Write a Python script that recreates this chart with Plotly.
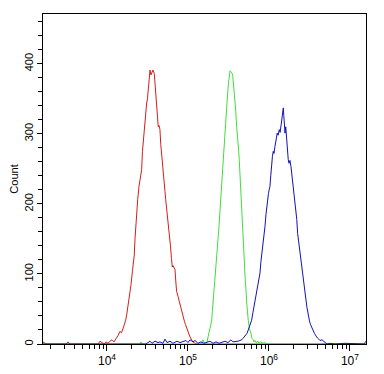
import plotly.graph_objects as go

# Fluorescence intensity given as log10 exponent, counts per channel
red_exp = [3.210, 3.247, 3.494, 3.519, 3.543, 3.889, 3.914, 3.938, 3.963, 3.988, 4.012, 4.037, 4.062, 4.086,
           4.120, 4.136, 4.160, 4.179, 4.201, 4.216, 4.231, 4.241, 4.256, 4.272, 4.296, 4.315, 4.337, 4.346,
           4.358, 4.370, 4.379, 4.395, 4.414, 4.428, 4.438, 4.451, 4.460, 4.475, 4.490, 4.500, 4.512, 4.522,
           4.531, 4.543, 4.556, 4.568, 4.584, 4.593, 4.605, 4.614, 4.623, 4.633, 4.642, 4.654, 4.664, 4.675,
           4.691, 4.704, 4.716, 4.725, 4.737, 4.747, 4.765, 4.784, 4.796, 4.806, 4.815, 4.827, 4.840, 4.849,
           4.860, 4.877, 4.889, 4.901, 4.914, 4.930, 4.942, 4.957, 4.969, 4.984, 5.000, 5.012, 5.025, 5.046,
           5.062, 5.086, 5.123, 7.198]
red_count = [3, 0, 0, 3, 0, 0, 4, 2, 0, 3, 1, 4, 6, 3,
             8, 12, 18, 16, 23, 28, 34, 40, 51, 65, 84, 105, 127, 150,
             175, 195, 206, 225, 240, 249, 275, 295, 306, 328, 344, 350, 370, 390,
             391, 384, 388, 391, 386, 373, 358, 344, 325, 310, 312, 306, 285, 268,
             245, 232, 218, 206, 194, 185, 166, 140, 122, 110, 112, 108, 106, 90,
             75, 68, 62, 56, 50, 42, 37, 32, 28, 23, 18, 14, 10, 6,
             3, 1, 0, 0]

green_exp = [3.210, 4.407, 4.420, 4.432, 5.148, 5.173, 5.185, 5.198, 5.210, 5.231, 5.241, 5.251, 5.259, 5.272,
             5.284, 5.293, 5.302, 5.309, 5.321, 5.333, 5.346, 5.354, 5.364, 5.374, 5.383, 5.395, 5.407, 5.420,
             5.436, 5.451, 5.465, 5.475, 5.490, 5.500, 5.510, 5.519, 5.527, 5.537, 5.552, 5.562, 5.572, 5.580,
             5.589, 5.601, 5.614, 5.623, 5.633, 5.642, 5.654, 5.667, 5.675, 5.685, 5.695, 5.704, 5.716, 5.728,
             5.744, 5.759, 5.778, 5.790, 5.806, 5.815, 5.827, 5.840, 5.864, 5.877, 5.901, 5.926, 5.951, 5.975,
             7.198]
green_count = [0, 0, 3, 0, 0, 3, 6, 2, 0, 1, 5, 10, 16, 22,
               28, 34, 48, 58, 72, 90, 105, 120, 135, 152, 168, 190, 215, 238,
               263, 290, 315, 338, 358, 372, 385, 390, 389, 388, 384, 372, 358, 345,
               334, 310, 296, 280, 263, 245, 215, 190, 168, 145, 120, 98, 72, 55,
               34, 22, 15, 8, 6, 3, 5, 2, 4, 1, 3, 1, 2, 0,
               0]

blue_exp = [3.210, 4.481, 4.506, 4.531, 4.556, 4.593, 4.630, 4.654, 4.691, 4.716, 4.741, 4.778, 4.815, 4.864,
            4.901, 4.938, 4.975, 5.000, 5.025, 5.062, 5.086, 5.123, 5.160, 5.198, 5.235, 5.272, 5.309, 5.346,
            5.383, 5.420, 5.457, 5.494, 5.531, 5.556, 5.580, 5.617, 5.642, 5.663, 5.679, 5.704, 5.728, 5.744,
            5.765, 5.786, 5.802, 5.821, 5.836, 5.846, 5.860, 5.870, 5.879, 5.889, 5.901, 5.914, 5.922, 5.932,
            5.941, 5.951, 5.963, 5.975, 5.984, 5.994, 6.002, 6.012, 6.022, 6.033, 6.043, 6.053, 6.062, 6.074,
            6.086, 6.102, 6.114, 6.127, 6.138, 6.148, 6.160, 6.170, 6.177, 6.183, 6.189, 6.198, 6.207, 6.219,
            6.228, 6.238, 6.247, 6.259, 6.272, 6.284, 6.300, 6.311, 6.321, 6.333, 6.343, 6.354, 6.364, 6.373,
            6.383, 6.395, 6.407, 6.423, 6.435, 6.444, 6.457, 6.469, 6.485, 6.500, 6.512, 6.527, 6.543, 6.562,
            6.574, 6.589, 6.605, 6.630, 6.654, 6.673, 6.691, 6.716, 6.753, 6.815, 6.938, 7.062, 7.173, 7.198]
blue_count = [0, 0, 2, 4, 1, 4, 2, 3, 1, 7, 2, 4, 1, 4,
              2, 3, 5, 2, 6, 3, 5, 1, 3, 1, 2, 4, 1, 3,
              1, 2, 4, 2, 6, 3, 3, 4, 5, 6, 8, 11, 15, 20,
              27, 34, 45, 58, 68, 75, 82, 92, 98, 101, 118, 130, 139, 150,
              160, 168, 185, 200, 210, 215, 220, 225, 240, 258, 268, 275, 272, 282,
              291, 301, 298, 306, 302, 310, 318, 330, 337, 326, 308, 301, 310, 287,
              275, 263, 258, 262, 253, 240, 225, 215, 205, 196, 178, 158, 148, 138,
              130, 120, 108, 96, 85, 75, 63, 52, 39, 33, 28, 25, 20, 15,
              12, 10, 8, 5, 6, 4, 3, 0, 1, 0, 1, 0, 0, 4]

series = [
    ("red", red_exp, red_count, "#d61c1c"),
    ("green", green_exp, green_count, "#3fdc3f"),
    ("blue", blue_exp, blue_count, "#1212b0"),
]

x_major = [1e4, 1e5, 1e6, 1e7]
x_major_text = ["10<sup>4</sup>", "10<sup>5</sup>", "10<sup>6</sup>", "10<sup>7</sup>"]
x_minor = [m * 10 ** d for d in (3, 4, 5, 6) for m in range(2, 10)]

fig = go.Figure()
for name, ex, cnt, col in series:
    fig.add_trace(go.Scatter(x=[10 ** e for e in ex], y=cnt, mode="lines", name=name,
                             line=dict(color=col, width=1), hoverinfo="skip"))

# the page body has an 8px default margin, so the figure is sized to fill the rest of the window
fig.update_layout(
    width=376, height=366,
    margin=dict(l=35, r=18, t=6, b=30, autoexpand=False),
    plot_bgcolor="white", paper_bgcolor="white",
    showlegend=False,
    font=dict(family="Liberation Sans, Arial, sans-serif", size=11, color="black"),
)
fig.update_xaxes(
    type="log", range=[3.21, 7.198], automargin=False,
    tickmode="array", tickvals=x_major, ticktext=x_major_text,
    ticks="outside", ticklen=6, tickcolor="black", tickwidth=1,
    showline=True, linecolor="black", linewidth=1, mirror=True,
    showgrid=False, zeroline=False,
    tickfont=dict(size=12, color="black"),
    minor=dict(tickmode="array", tickvals=x_minor, ticks="outside", ticklen=4,
               tickcolor="black", tickwidth=1, showgrid=False),
)
fig.update_yaxes(
    range=[0, 471], tickmode="linear", tick0=0, dtick=100, automargin=False,
    ticks="outside", ticklen=5, tickcolor="black", tickwidth=1,
    tickangle=-90,
    showline=True, linecolor="black", linewidth=1, mirror=True,
    showgrid=False, zeroline=False,
    tickfont=dict(size=11, color="black"),
    minor=dict(dtick=20, ticks="outside", ticklen=4, tickcolor="black", tickwidth=1, showgrid=False),
    title=dict(text="Count", font=dict(size=11), standoff=4),
)

fig.write_html("out.html")
